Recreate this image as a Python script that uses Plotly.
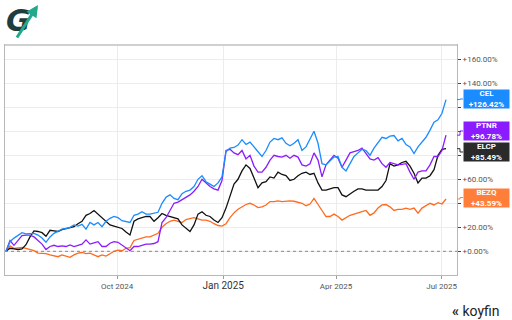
import plotly.graph_objects as go

# trading-session index (one sample per ~4 sessions-equivalent of the picture)
session = list(range(111))

cel = [0, 8, 11, 13.5, 15.5, 14.5, 15, 15, 13.5, 11, 7.5, 12, 15, 17, 18.5, 19, 20, 22, 21, 22.5,
       18.5, 24, 22, 24, 20.5, 25, 27.5, 29, 28, 25.5, 24.7, 24, 30, 31, 33, 31, 31, 31.5, 32.5, 40,
       45, 47, 44, 43, 48, 50, 51, 54, 60, 63, 58, 56, 54, 57, 62, 83, 86, 86.5, 88.5, 93,
       89, 91, 87, 83.5, 79, 84, 91, 94, 93, 94.5, 90, 88, 90, 93, 84, 87, 93, 100, 90, 73,
       72, 75, 78.5, 79, 70, 67, 73, 79, 82, 85, 84, 80, 86, 91, 95, 94, 96, 96.5, 92, 94,
       89, 87, 81.5, 87, 91, 95, 101, 107.5, 109.5, 115, 126.42]

ptnr = [0, 9, 5, 9, 13, 13.5, 13.5, 12, 9, 6, 1.5, 4, 5, 4, 4.5, 4, 5.3, 4, 5, 6,
        9.5, 6, 7, 8, 4, 4, 6.7, 8, 7.5, 5, 3, 0.5, 4, 4, 5, 6, 6, 6.5, 8, 24,
        28, 34, 40, 41, 43, 45.5, 47, 50, 54, 60, 57, 54, 52, 51, 59, 84, 85, 82, 80.5, 84,
        77, 80, 71, 66, 66, 70, 76, 80, 79, 78.5, 80, 77.5, 80, 78.5, 72, 71, 73, 82, 76, 62,
        72, 76, 80, 77.5, 70, 76, 82, 83, 84, 86, 81, 77, 76, 78, 73, 70, 74, 73, 72, 72.5,
        73, 66, 60, 66, 67, 67, 72, 79, 79, 84, 96.78]

elcp = [0, 2.5, 2, 1.5, 2, 5.5, 12, 17, 16.5, 15.5, 12.5, 17.5, 17, 16.5, 18, 19, 20, 20.5, 23, 25,
        30, 31.5, 34, 31, 28, 25, 22, 21, 20, 19, 16, 13.6, 25, 27, 28, 29, 29, 25, 28, 31.5,
        30, 29, 28.5, 27, 22, 19, 16.5, 22, 31, 33, 30, 29, 26, 24, 28, 36, 46, 56, 60, 67,
        72, 69, 61, 53, 57, 58, 62, 61, 66, 64, 63, 59, 60, 63, 65, 66, 64, 65, 57, 51,
        51, 52, 53, 53, 47, 45.5, 48, 50, 52, 52, 51, 51, 51, 51, 54, 59, 73, 71, 72, 74,
        75, 71, 65, 57, 61, 61, 63, 68, 80, 85, 85.49]

bezq = [0, 4.5, 2.5, 3, 3.3, 2.5, 1.5, 0.5, -1.5, -1.7, -2, -3, -3.5, -4.5, -3, -4, -5, -3, -1.5, -1,
        -2, -1.5, -3, -4.5, -3, -4, -2, 0, 1, 0.5, 2.5, 3, 9, 10, 10.5, 12, 12, 13.5, 15, 20,
        23, 25, 26, 25, 24, 26.5, 27, 28, 27, 26, 26, 25, 23, 21.5, 21, 23, 28, 32, 35, 37,
        39, 40, 38.6, 36.4, 37, 38.6, 41.4, 41.4, 42, 41.4, 42, 42, 41.7, 40.8, 40, 38, 39.4, 44, 38.6, 34,
        29, 29, 31, 29, 26, 28.3, 30, 31, 31.7, 33, 34, 30, 32, 36, 38.6, 39, 37, 34, 35, 35,
        36, 35, 36, 31.7, 36, 38, 40, 38.6, 40.5, 39.4, 43.59]

tick_sessions = [27.8, 54.3, 82.5, 108.9]
tick_labels = ["Oct 2024", "<span style='font-size:10px;color:#333'>Jan 2025</span>", "Apr 2025", "Jul 2025"]

y_ticks = [0, 20, 40, 60, 80, 100, 120, 140, 160]
# labels at 40/80/100/120 are covered by the value badges in the reference
y_labels = ["+0.00%", "+20.00%", "", "+60.00%", "", "", "", "+140.00%", "+160.00%"]

series = [
    ("BEZQ", bezq, "#ff6a1f", "#ff7f3a", 44.8),
    ("ELCP", elcp, "#111111", "#2a2a2a", 82.75),
    ("PTNR", ptnr, "#8a1cff", "#8a1cff", 100.25),
    ("CEL", cel, "#1a8cff", "#1a8cff", 126.9),
]

fig = go.Figure()
for name, vals, lc, bc, by in series:
    fig.add_trace(go.Scatter(x=session, y=vals, mode="lines", name=name,
                             line=dict(color=lc, width=1.3), showlegend=False))

fig.update_layout(
    width=512, height=320,
    margin=dict(l=5, r=55, t=45, b=45),
    paper_bgcolor="white", plot_bgcolor="white",
    font=dict(family="Roboto, Arial, sans-serif", size=8, color="#555"),
)
fig.update_xaxes(
    range=[-0.25, 112.75], tickvals=tick_sessions, ticktext=tick_labels,
    showgrid=True, gridcolor="#ececec", gridwidth=1,
    showline=True, linecolor="#b8b8b8", linewidth=1, mirror=True,
    ticks="outside", ticklen=3, tickcolor="#999", zeroline=False,
    tickfont=dict(size=8, color="#555"),
)
fig.update_yaxes(
    range=[-19.75, 171.9], side="right", tickvals=y_ticks, ticktext=y_labels,
    showgrid=True, gridcolor="#ececec", gridwidth=1,
    showline=True, linecolor="#b8b8b8", linewidth=1, mirror=True,
    ticks="outside", ticklen=3, tickcolor="#444", zeroline=False,
    tickfont=dict(size=8, color="#555"),
)

# dotted zero line
fig.add_shape(type="line", xref="paper", yref="y", x0=0, x1=1, y0=0, y1=0,
              line=dict(color="#888", width=1, dash="dot"))
# top border band
fig.add_shape(type="line", xref="paper", yref="paper", x0=0, x1=1, y0=1, y1=1,
              line=dict(color="#d0d0d0", width=2))

# end-value badges with connectors
px_per_paper = 452.0
for name, vals, lc, bc, by in series:
    last = vals[-1]
    fig.add_shape(type="line", xref="paper", yref="y", x0=1.0, x1=1.0066, y0=last, y1=last,
                  line=dict(color=bc, width=1))
    fig.add_shape(type="line", xref="paper", yref="y", x0=1.0066, x1=1.0066, y0=last, y1=by,
                  line=dict(color=bc, width=1))
    fig.add_shape(type="line", xref="paper", yref="y", x0=1.0066, x1=1.0135, y0=by, y1=by,
                  line=dict(color=bc, width=1))
    fig.add_annotation(xref="paper", yref="y", x=1.0133, y=by, xanchor="left", yanchor="middle",
                       text="<b>%s<br>+%.2f%%</b>" % (name, last), showarrow=False,
                       font=dict(size=8, color="white", family="Roboto, Arial, sans-serif"),
                       bgcolor=bc, width=45, height=18, borderpad=0, align="center")

# logo top-left
fig.add_annotation(xref="paper", yref="paper", x=-0.002, y=1.02, xanchor="left", yanchor="bottom",
                   text="<b><i>G</i></b>", showarrow=False,
                   font=dict(size=30, color="#1e3d3c", family="DejaVu Sans"))
fig.add_annotation(xref="paper", yref="paper", x=(38 - 5) / px_per_paper, y=(275 - 5) / 230.0,
                   ax=-22, ay=34, text="", showarrow=True, arrowhead=2, arrowsize=0.8,
                   arrowwidth=3, arrowcolor="#22a88a")

# koyfin logo
fig.add_annotation(xref="paper", yref="paper", x=1.10, y=-0.115, xanchor="right", yanchor="top",
                   text="<b>«</b> koyfin", showarrow=False,
                   font=dict(size=14, color="#222", family="Roboto, Arial, sans-serif"))

fig.write_html("out.html")
